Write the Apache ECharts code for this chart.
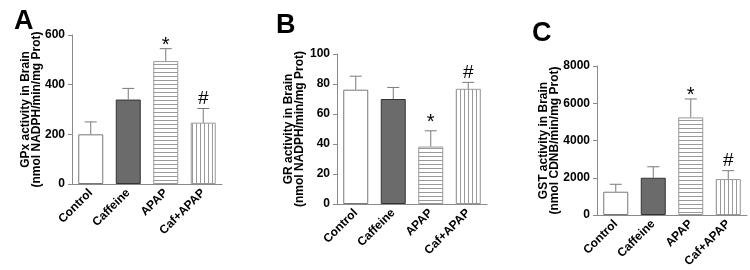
<!DOCTYPE html>
<html>
<head>
<meta charset="utf-8">
<script src="https://cdn.jsdelivr.net/npm/echarts@6/dist/echarts.min.js"></script>
<style>
html,body{margin:0;padding:0;background:#fff;}
#chart{width:750px;height:270px;}
</style>
</head>
<body>
<div id="chart"></div>
<script>
// groups on the x axis
var groups = ['Control', 'Caffeine', 'APAP', 'Caf+APAP'];

// panel A - GPx
var gpxMean = [200, 340, 495, 247];
var gpxErr = [50, 45, 50, 57];
var gpxMarks = ['', '', '*', '#'];

// panel B - GR
var grMean = [76.2, 70, 38.3, 76.8];
var grErr = [9, 7.7, 10.5, 4.3];
var grMarks = ['', '', '*', '#'];

// panel C - GST
var gstMean = [1250, 2000, 5240, 1930];
var gstErr = [400, 590, 990, 450];
var gstMarks = ['', '', '*', '#'];

var panels = [
	{letter: 'A', mean: gpxMean, err: gpxErr, marks: gpxMarks, max: 600, step: 200,
	 name: 'GPx activity in Brain\n(nmol NADPH/min/mg Prot)'},
	{letter: 'B', mean: grMean, err: grErr, marks: grMarks, max: 100, step: 20,
	 name: 'GR activity in Brain\n(nmol NADPH/min/mg Prot)'},
	{letter: 'C', mean: gstMean, err: gstErr, marks: gstMarks, max: 8000, step: 2000,
	 name: 'GST activity in Brain\n(nmol CDNB/min/mg Prot)'}
];

var font = '"Liberation Sans", Arial, sans-serif';
var myChart = echarts.init(document.getElementById('chart'), null, {renderer: 'canvas'});

//条纹填充
function stripes(horizontal)
{
	var c = document.createElement('canvas');
	c.width = 4;
	c.height = 4;
	var ctx = c.getContext('2d');
	ctx.fillStyle = '#fff';
	ctx.fillRect(0, 0, 4, 4);
	ctx.fillStyle = '#9a9a9a';
	if(horizontal) ctx.fillRect(0, 0, 4, 1);
	else ctx.fillRect(0, 0, 1, 4);
	return {image: c, repeat: 'repeat'};
}

var barStyles = [
	{color: '#fff', borderColor: '#777', borderWidth: 1},
	{color: '#6b6b6b', borderColor: '#333', borderWidth: 1},
	{color: stripes(true), borderColor: '#999', borderWidth: 1},
	{color: stripes(false), borderColor: '#999', borderWidth: 1}
];

var grids = [
	{left: 72, top: 35, width: 150, height: 149},
	{left: 337, top: 54, width: 150, height: 150},
	{left: 597, top: 66, width: 150, height: 149}
];
var letterPos = [[9, 3], [271, 7], [527, 15]];
var nameGaps = [30, 32, 37];
var starLift = [0, 5, 0];

var option = {
	backgroundColor: '#fff',
	animation: false,
	title: [],
	grid: grids,
	xAxis: [],
	yAxis: [],
	series: []
};

panels.forEach(function(p, i) {
	option.title.push({
		text: p.letter,
		left: letterPos[i][0],
		top: letterPos[i][1],
		textStyle: {fontFamily: font, fontSize: 27, fontWeight: 'bold', color: '#000'}
	});
	option.xAxis.push({
		type: 'category',
		gridIndex: i,
		data: groups,
		axisLine: {lineStyle: {color: '#8a8a8a'}},
		axisTick: {alignWithLabel: true, length: 4, lineStyle: {color: '#8a8a8a'}},
		axisLabel: {rotate: 45, margin: 7, fontFamily: font, fontSize: 12, fontWeight: 'bold', color: '#000'}
	});
	option.yAxis.push({
		type: 'value',
		gridIndex: i,
		min: 0,
		max: p.max,
		interval: p.step,
		splitLine: {show: false},
		axisLine: {show: true, lineStyle: {color: '#8a8a8a'}},
		axisTick: {show: true, length: 4, lineStyle: {color: '#8a8a8a'}},
		axisLabel: {margin: 7, fontFamily: font, fontSize: 12, fontWeight: 'bold', color: '#000',
			formatter: function(v) { return String(v); }},
		name: p.name,
		nameLocation: 'middle',
		nameGap: nameGaps[i],
		nameMoveOverlap: false,
		nameTextStyle: {fontFamily: font, fontSize: 12, fontWeight: 'bold', color: '#000', lineHeight: 11}
	});
	option.series.push({
		type: 'bar',
		xAxisIndex: i,
		yAxisIndex: i,
		barWidth: 25,
		data: p.mean.map(function(v, k) { return {value: v, itemStyle: barStyles[k]}; }),
		z: 2
	});
	option.series.push({
		type: 'custom',
		xAxisIndex: i,
		yAxisIndex: i,
		z: 3,
		data: p.mean.map(function(v, k) { return [k, v, p.err[k]]; }),
		renderItem: function(params, api) {
			var x = api.value(0);
			var lo = api.coord([x, api.value(1)]);
			var hi = api.coord([x, api.value(1) + api.value(2)]);
			var children = [
				{type: 'line', shape: {x1: lo[0], y1: lo[1], x2: hi[0], y2: hi[1]}, style: {stroke: '#7a7a7a', lineWidth: 1}},
				{type: 'line', shape: {x1: hi[0] - 6, y1: hi[1], x2: hi[0] + 6, y2: hi[1]}, style: {stroke: '#7a7a7a', lineWidth: 1}}
			];
			var m = p.marks[params.dataIndex];
			if(m)
			{
				children.push({
					type: 'text',
					x: hi[0],
					y: m == '*' ? hi[1] + 7 - starLift[i] : hi[1],
					style: {text: m, fontFamily: font, fontSize: m == '*' ? 20 : 19, fill: '#000', align: 'center', verticalAlign: 'bottom'}
				});
			}
			return {type: 'group', children: children};
		}
	});
});

myChart.setOption(option);
</script>
</body>
</html>
